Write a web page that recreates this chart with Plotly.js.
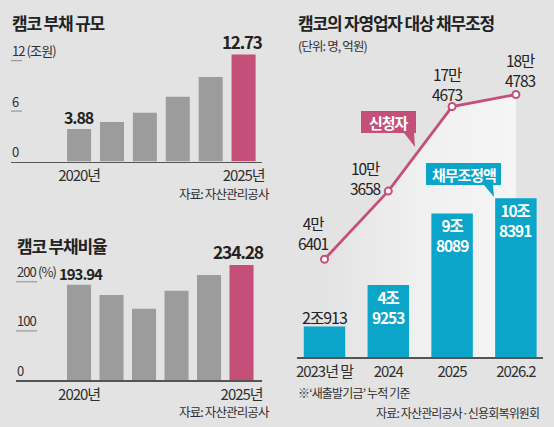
<!DOCTYPE html>
<html><head><meta charset="utf-8">
<script src="https://cdn.plot.ly/plotly-3.0.1.min.js"></script>
<style>html,body{margin:0;padding:0;background:#e3e3e3}#c{width:554px;height:427px}text{letter-spacing:-0.07em}</style>
</head><body><div id="c"></div>
<script>
const FONT='"Noto Sans CJK KR","Noto Sans",sans-serif';
const BG='#e3e3e3',INK='#222222',SOFT='#303030',GREY='#9b9c9b',PINK='#c44f78',TEAL='#0aa5c8';
const W=554,H=427;

const years=[2020,2021,2022,2023,2024,2025];
const debtSize=[3.88,4.7,5.8,7.7,10.05,12.73];
const debtRatio=[193.94,173,145,182,214,234.28];
const yearTicks=[2020,2025];
const yearTickText=['2020년','2025년'];
const sizeTicks=[12,6,0];
const sizeTickText=['12 (조원)','6','0'];
const ratioTicks=[200,100,0];
const ratioTickText=['200 (%)','100','0'];

const periods=['2023년 말','2024','2025','2026.2'];
const applicants=[46401,103658,174673,184783];
const applicantTop=['4만','10만','17만','18만'];
const applicantBottom=['6401','3658','4673','4783'];
const relief=[20913,49253,98089,108391];
const reliefTop=['2조913','4조','9조','10조'];
const reliefBottom=['','9253','8089','8391'];

const colors=[...years.map((_,i)=>i===5?PINK:GREY)];
const px=(x)=>x/W, py=(y)=>1-y/H;
const lineMin=-35952,lineMax=213775;
const fillBase=periods.map(()=>lineMin);

const traces=[
 {type:'bar',x:years,y:debtSize,xaxis:'x',yaxis:'y',width:0.73,marker:{color:colors},hoverinfo:'skip'},
 {type:'bar',x:years,y:debtRatio,xaxis:'x2',yaxis:'y2',width:0.74,marker:{color:colors},hoverinfo:'skip'},
 {type:'scatter',mode:'lines',line:{width:0,color:'rgba(0,0,0,0)'},x:periods,y:fillBase,xaxis:'x3',yaxis:'y3',hoverinfo:'skip'},
 {type:'scatter',mode:'lines+markers',x:periods,y:applicants,xaxis:'x3',yaxis:'y3',
  line:{color:PINK,width:2.8},marker:{size:7,color:'#ffffff',line:{color:PINK,width:2}},
  fill:'tonexty',fillcolor:'#f2f2f2',fillgradient:{type:'horizontal',colorscale:[[0,BG],[0.5,'#f0f0f0'],[1,'#f5f5f5']]},hoverinfo:'skip'},
 {type:'bar',x:periods,y:relief,xaxis:'x3',yaxis:'y4',width:0.65,marker:{color:TEAL},hoverinfo:'skip'}
];

const ann=[];
function paperText(text,x,y,size,opts={}){
  ann.push(Object.assign({text,xref:'paper',yref:'paper',x:px(x),y:py(y),xanchor:'left',yanchor:'middle',showarrow:false,
    font:{family:FONT,size,color:INK}},opts));
}
function dataText(text,x,y,xa,ya,ys,size,opts={}){
  ann.push(Object.assign({text,xref:xa,yref:ya,x,y,yshift:ys,xanchor:'center',yanchor:'middle',showarrow:false,
    font:{family:FONT,size,color:INK}},opts));
}
const bold=(s)=>'<b>'+s+'</b>';
const softFont=(size)=>({font:{family:FONT,size,color:SOFT}});

paperText(bold('캠코 부채 규모'),10,22,17);
paperText(bold('캠코 부채비율'),15,245,17);
paperText(bold('캠코의 자영업자 대상 채무조정'),296,22,17);
paperText('(단위: 명, 억원)',296,45,12.5,softFont(12.5));
paperText('자료: 자산관리공사',272,193,12.5,Object.assign({xanchor:'right'},softFont(12.5)));
paperText('자료: 자산관리공사',272,411,12.5,Object.assign({xanchor:'right'},softFont(12.5)));
paperText('※‘새출발기금’ 누적 기준',296,392,12,softFont(12));
paperText('자료: 자산관리공사·신용회복위원회',541,412,12,Object.assign({xanchor:'right'},softFont(12)));

const shapes=[];
function ticks(vals,texts,ya,x0,x1){
  vals.forEach((v,i)=>{
    ann.push({text:texts[i],xref:'paper',yref:ya,x:px(x0-1),y:v,yshift:10,xanchor:'left',yanchor:'middle',showarrow:false,
      font:{family:FONT,size:13,color:SOFT}});
    if(v!==0) shapes.push({type:'line',xref:'paper',yref:ya,x0:px(x0),x1:px(x1),y0:v,y1:v,line:{color:'#8a8a8a',width:1}});
  });
}
ticks(sizeTicks,sizeTickText,'y',11,22);
ticks(ratioTicks,ratioTickText,'y2',16,37);

dataText(bold('3.88'),years[0],debtSize[0],'x','y',12,16);
dataText(bold('12.73'),years[5],debtSize[5],'x','y',13,17,{xshift:-1});
dataText(bold('193.94'),years[0],debtRatio[0],'x2','y2',11,15,{xshift:2});
dataText(bold('234.28'),years[5],debtRatio[5],'x2','y2',13,17.5,{xshift:-3});

const appOffsetX=[-11,-23,-5,5];
const appOffsetY=[26,13,23,25];
periods.forEach((p,i)=>{
  dataText(applicantTop[i]+'<br>'+applicantBottom[i],i,applicants[i],'x3','y3',appOffsetY[i],15.5,{xshift:appOffsetX[i]});
});
dataText(reliefTop[0],0,relief[0],'x3','y4',10,16);
[1,2,3].forEach(i=>{
  dataText(bold(reliefTop[i]+'<br>'+reliefBottom[i]),i,relief[i],'x3','y4',-22,15.5,{font:{family:FONT,size:15.5,color:'#ffffff'}});
});

function tag(text,x0,x1,y0,y1,col,tail){
  shapes.push({type:'rect',xref:'paper',yref:'paper',x0:px(x0),x1:px(x1),y0:py(y0),y1:py(y1),fillcolor:col,line:{width:0},layer:'above'});
  shapes.push({type:'path',xref:'paper',yref:'paper',fillcolor:col,line:{width:0},layer:'above',
    path:'M'+tail.map(p=>px(p[0])+','+py(p[1])).join(' L')+' Z'});
  ann.push({text:bold(text),xref:'paper',yref:'paper',x:px((x0+x1)/2),y:py((y0+y1)/2),xanchor:'center',yanchor:'middle',showarrow:false,
    font:{family:FONT,size:15,color:'#ffffff'}});
}
tag('신청자',361,416,111,133,PINK,[[404,133],[414,133],[415,147]]);
tag('채무조정액',426,501,163,185,TEAL,[[484,185],[493,185],[494,197]]);

const tickFont={family:FONT,size:15,color:SOFT};
const xBase={showgrid:false,zeroline:false,showline:true,linecolor:'#555555',linewidth:1.5,ticks:'',tickfont:tickFont,fixedrange:true};
const yBase={showgrid:false,zeroline:false,showline:false,showticklabels:false,ticks:'',fixedrange:true};

const layout={
 width:W,height:H,margin:{l:0,r:0,t:0,b:0},paper_bgcolor:BG,plot_bgcolor:'rgba(0,0,0,0)',showlegend:false,
 font:{family:FONT,color:INK},annotations:ann,shapes,
 xaxis:Object.assign({},xBase,{domain:[px(11),px(262)],range:[2017.93,2025.56],tickmode:'array',tickvals:yearTicks,ticktext:yearTickText,anchor:'y'}),
 yaxis:Object.assign({},yBase,{domain:[py(161.5),py(40)],range:[0,14.46],anchor:'x'}),
 xaxis2:Object.assign({},xBase,{domain:[px(16),px(262)],range:[2018.06,2025.63],tickmode:'array',tickvals:yearTicks,ticktext:yearTickText,anchor:'y2'}),
 yaxis2:Object.assign({},yBase,{domain:[py(380),py(250)],range:[0,264.8],anchor:'x2'}),
 xaxis3:Object.assign({},xBase,{domain:[px(297),px(543)],type:'category',categoryorder:'array',categoryarray:periods,range:[-0.431,3.425],anchor:'y3'}),
 yaxis3:Object.assign({},yBase,{domain:[py(357.3),py(60)],range:[lineMin,lineMax],anchor:'x3'}),
 yaxis4:Object.assign({},yBase,{domain:[py(357.3),py(60)],range:[0,202658],overlaying:'y3',anchor:'x3'})
};
Plotly.newPlot('c',traces,layout,{displayModeBar:false,staticPlot:true});
</script></body></html>
